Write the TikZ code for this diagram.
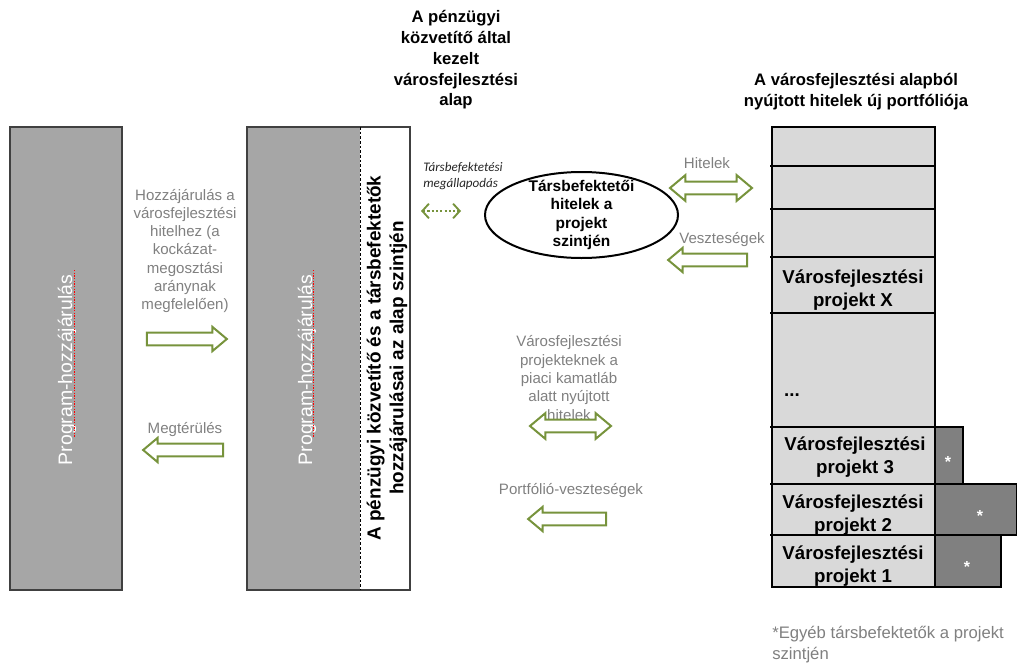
\documentclass[tikz,border=0pt]{standalone}
\usepackage{fontspec}
\setmainfont{Liberation Sans}
\newfontfamily\carlito{Carlito}
\usetikzlibrary{shapes.geometric,shapes.arrows,arrows.meta}
\definecolor{boxgray}{HTML}{A6A6A6}
\definecolor{cellgray}{HTML}{D9D9D9}
\definecolor{stargray}{HTML}{808080}
\definecolor{txtgray}{HTML}{808080}
\definecolor{agreen}{HTML}{77933C}
\tikzset{
  gtxt/.style={text=txtgray, font=\fontsize{11.3}{13.7}\selectfont, align=center, inner sep=0pt},
  btxt/.style={text=black, font=\bfseries\fontsize{14}{17}\selectfont, align=center, inner sep=0pt},
  rarrow/.style={single arrow, draw=agreen, line width=1.5pt, fill=white, inner sep=4.1pt,
     single arrow head extend=4.3pt, single arrow tip angle=80, minimum height=#1},
  larrow/.style={rarrow=#1, shape border rotate=180},
  darrow/.style={double arrow, draw=agreen, line width=1.5pt, fill=white, inner sep=4.1pt,
     double arrow head extend=4.8pt, double arrow tip angle=80, minimum height=#1},
  bigbox/.style={draw=black!75, line width=0.8pt},
  cellline/.style={line width=1.6pt, draw=black},
  starbox/.style={fill=stargray, draw=black, line width=0.8pt},
  startxt/.style={text=white, font=\bfseries\fontsize{12}{14}\selectfont, anchor=base, inner sep=0pt},
  squiggle/.style={red, line width=0.6pt, dash pattern=on 1pt off 1pt},
  progtxt/.style={rotate=90, anchor=base, text=white, font=\fontsize{14.6}{17}\selectfont, inner sep=0pt},
}
\begin{document}
\begin{tikzpicture}[x=0.75pt, y=-0.75pt]
\useasboundingbox (0,0) rectangle (1017,664);

% titles
\node[btxt, font=\bfseries\fontsize{12.5}{15.6}\selectfont] (t1) at (456,60)
  {A pénzügyi\\közvetítő által\\kezelt\\városfejlesztési\\alap};
\node[btxt, font=\bfseries\fontsize{12.5}{15.6}\selectfont] (t2) at (856,92)
  {A városfejlesztési alapból\\nyújtott hitelek új portfóliója};

% left box
\path[bigbox, fill=boxgray] (10,127) rectangle (122,590);
\node[progtxt] (p1) at (72,370) {Program-hozzájárulás};
\draw[squiggle] (74.5,270) -- (74.5,437);

% second box
\path[fill=boxgray] (247,127) rectangle (360,590);
\path[fill=white] (360,127) rectangle (410,590);
\draw[bigbox] (247,127) rectangle (410,590);
\draw[black, line width=0.6pt, dash pattern=on 2pt off 1.5pt] (360,127) -- (360,590);
\node[progtxt] (p2) at (312,370) {Program-hozzájárulás};
\draw[squiggle] (313.5,270) -- (313.5,437);
\node[btxt, rotate=90, font=\bfseries\fontsize{14.2}{17}\selectfont] (strip) at (387,358)
  {A pénzügyi közvetítő és a társbefektetők\\hozzájárulásai az alap szintjén};

% left arrows and labels
\node[gtxt] (l1) at (185,251)
  {Hozzájárulás a\\városfejlesztési\\hitelhez (a\\kockázat-\\megosztási\\aránynak\\megfelelően)};
\node[rarrow=60pt] (a1) at (183,339) {};
\node[gtxt] (l2) at (185,430) {Megtérülés};
\node[larrow=60pt] (a2) at (187,450) {};

% co-investment agreement
\node[text=black!85, font=\carlito\itshape\fontsize{9.8}{12.2}\selectfont, align=left, anchor=west, inner sep=0pt] (ag) at (423,176)
  {Társbefektetési\\megállapodás};
\coordinate (d1) at (421,211);
\coordinate (d2) at (461,211);
\draw[agreen, line width=1.4pt, dash pattern=on 1.6pt off 1.6pt,
  {Straight Barb[length=5pt,width=11pt,line width=1.4pt]}-{Straight Barb[length=5pt,width=11pt,line width=1.4pt]}] (d1) -- (d2);

% ellipse
\node[ellipse, draw=black, line width=1.5pt, fill=white, minimum width=144.75pt, minimum height=64.5pt, inner sep=0pt] (ell) at (581.5,215) {};
\node[btxt, font=\bfseries\fontsize{11.6}{13.9}\selectfont] (ellt) at (ell.center)
  {Társbefektetői\\hitelek a\\projekt\\szintjén};

% right arrows
\node[gtxt] (l3) at (707,163) {Hitelek};
\node[darrow=61.5pt] (a3) at (711,188) {};
\node[gtxt] (l4) at (722,240) {Veszteségek};
\node[larrow=59.25pt] (a4) at (711.5,260) {};

% middle arrows
\node[gtxt] (l5) at (569,378)
  {Városfejlesztési\\projekteknek a\\piaci kamatláb\\alatt nyújtott\\hitelek};
\node[darrow=60.75pt] (a5) at (570.5,426) {};
\node[gtxt] (l6) at (571,491) {Portfólió-veszteségek};
\node[larrow=58.5pt] (a6) at (571,519) {};

% portfolio column
\draw[fill=cellgray, draw=black, line width=1.2pt] (772,127) rectangle (935,587);
\foreach \yy in {166,209,257,313,427,484,535}
  \draw[cellline] (770,\yy) -- (935,\yy);
\node[btxt] (cx) at (853,290) {Városfejlesztési\\projekt X};
\node[text=black, font=\bfseries\fontsize{14}{17}\selectfont, inner sep=0pt] (dots) at (792,395) {...};
\node[btxt] (c3) at (855,457) {Városfejlesztési\\projekt 3};
\node[btxt] (c2) at (853,515) {Városfejlesztési\\projekt 2};
\node[btxt] (c1) at (853,566) {Városfejlesztési\\projekt 1};

% other co-investors
\draw[starbox] (935,427) rectangle (963,484);
\draw[starbox] (935,484) rectangle (1017,535);
\draw[starbox] (935,535) rectangle (1001,587);
\node[startxt] (s3) at (948,467) {*};
\node[startxt] (s2) at (980,521) {*};
\node[startxt] (s1) at (967,572) {*};

% footnote
\node[text=txtgray, font=\fontsize{12.5}{15.5}\selectfont, align=left, anchor=north west, inner sep=0pt] (note) at (772,626)
  {*Egyéb társbefektetők a projekt\\szintjén};
\end{tikzpicture}
\end{document}
